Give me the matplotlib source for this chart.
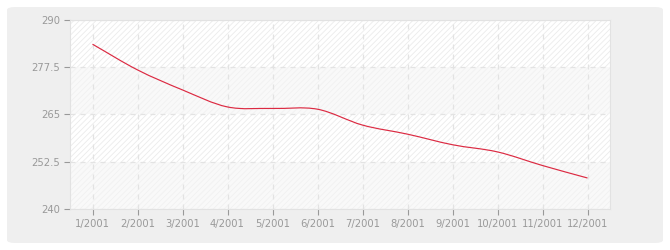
import numpy as np
import matplotlib
matplotlib.use("Agg")
import matplotlib.pyplot as plt
from matplotlib.patches import FancyBboxPatch
from matplotlib.path import Path
from matplotlib.patches import PathPatch

plt.rcParams["hatch.linewidth"] = 0.6

months = ["1/2001", "2/2001", "3/2001", "4/2001", "5/2001", "6/2001",
          "7/2001", "8/2001", "9/2001", "10/2001", "11/2001", "12/2001"]
values = [283.6, 276.8, 271.5, 267.0, 266.6, 266.4,
          262.2, 259.8, 257.0, 255.1, 251.5, 248.2]
yticks = [240, 252.5, 265, 277.5, 290]
ytick_labels = ["240", "252.5", "265", "277.5", "290"]

fig = plt.figure(figsize=(6.7, 2.5), dpi=100)
fig.patch.set_facecolor("white")

# rounded grey panel behind the chart
panel = FancyBboxPatch((7 / 670, 7 / 250), 656 / 670, 236 / 250,
                       boxstyle="round,pad=0,rounding_size=0.012",
                       transform=fig.transFigure, facecolor="#efefef",
                       edgecolor="none", zorder=-10)
fig.add_artist(panel)

ax = fig.add_axes([70 / 670, 41 / 250, 540 / 670, 189 / 250])
ax.set_zorder(1)
ax.set_facecolor("#fdfdfd")

x = np.arange(1, len(values) + 1)

# alternating bands
for i in range(len(yticks) - 1):
    if i % 2 == 1:
        ax.axhspan(yticks[i], yticks[i + 1], facecolor="white",
                   edgecolor="#ebebeb", hatch="//////", linewidth=0, zorder=0)
    else:
        ax.axhspan(yticks[i], yticks[i + 1], facecolor="#f9f9f9",
                   edgecolor="#f1f1f1", hatch="//////", linewidth=0, zorder=0)

ax.grid(True, color="#e3e3e3", linestyle=(0, (4, 4)), linewidth=0.9)
ax.set_axisbelow(True)

# smooth curve through the points (cubic bezier segments)
y = np.array(values)
slopes = np.gradient(y, x)
verts = [(x[0], y[0])]
codes = [Path.MOVETO]
for i in range(len(x) - 1):
    dx = (x[i + 1] - x[i]) / 3
    verts += [(x[i] + dx, y[i] + slopes[i] * dx),
              (x[i + 1] - dx, y[i + 1] - slopes[i + 1] * dx),
              (x[i + 1], y[i + 1])]
    codes += [Path.CURVE4] * 3
ax.add_patch(PathPatch(Path(verts, codes), facecolor="none",
                       edgecolor="#dc2a42", linewidth=0.85, zorder=3))

ax.set_xlim(0.5, 12.5)
ax.set_ylim(240, 290)
ax.set_xticks(x)
ax.set_xticklabels(months)
ax.set_yticks(yticks)
ax.set_yticklabels(ytick_labels)

ax.tick_params(axis="both", colors="#999999", labelcolor="#999999",
               labelsize=7.2, length=4, width=0.8, direction="out")
ax.tick_params(axis="x", pad=3)
ax.tick_params(axis="y", pad=3)
for s in ax.spines.values():
    s.set_color("#e2e2e2")
    s.set_linewidth(0.8)

fig.savefig("out.png", dpi=100)
